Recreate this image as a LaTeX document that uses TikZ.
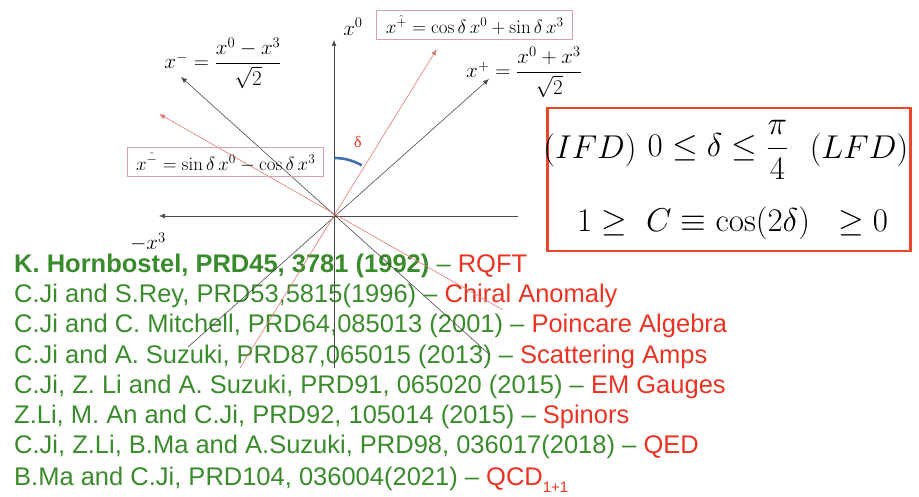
\RequirePackage{fix-cm}
\documentclass[tikz,border=0pt]{standalone}
\usepackage{amsmath,amssymb}
\usepackage[no-math]{fontspec}
\setmainfont{Liberation Sans}
\newfontfamily\greekserif{Liberation Serif}
\usetikzlibrary{arrows.meta,positioning,calc}
\definecolor{AxisGray}{HTML}{4A4A4A}
\definecolor{RayRed}{HTML}{E07A72}
\definecolor{BoxPink}{HTML}{D8A0AC}
\definecolor{FrameRed}{HTML}{E8472B}
\definecolor{ArcBlue}{HTML}{3F6FAE}
\definecolor{RefGreen}{HTML}{3A8B2C}
\definecolor{TopicRed}{HTML}{EA3323}
\begin{document}
\begin{tikzpicture}[
  x=1pt, y=-1pt,
  axis/.style={draw=AxisGray, line width=0.6pt, -{Latex[length=6pt,width=5pt]}},
  ray/.style={draw=RayRed, line width=0.6pt, -{Latex[length=6pt,width=5pt]}},
  eq/.style={inner sep=0pt, font=\fontsize{21}{25}\selectfont},
  eqbox/.style={draw=BoxPink, line width=0.7pt, inner sep=0pt, minimum width=196pt, minimum height=29pt, font=\fontsize{19}{22}\selectfont},
  condframe/.style={draw=FrameRed, line width=2.6pt, minimum width=363pt, minimum height=143pt},
  cond/.style={inner sep=0pt, font=\fontsize{33}{38}\selectfont},
  ref/.style={anchor=base west, inner sep=0pt, text=RefGreen, font=\fontsize{25.5}{30}\selectfont},
  deltaarc/.style={draw=ArcBlue, line width=2.6pt}
]
\useasboundingbox (0,0) rectangle (919,497);

% references
\node[ref] (r1) at (14,273) {\textbf{K. Hornbostel, PRD45, 3781 (1992)} -- \textcolor{TopicRed}{RQFT}};
\node[ref] (r2) at (14,303) {C.Ji and S.Rey, PRD53,5815(1996) -- \textcolor{TopicRed}{Chiral Anomaly}};
\node[ref] (r3) at (14,333) {C.Ji and C. Mitchell, PRD64,085013 (2001) -- \textcolor{TopicRed}{Poincare Algebra}};
\node[ref] (r4) at (14,363) {C.Ji and A. Suzuki, PRD87,065015 (2013) -- \textcolor{TopicRed}{Scattering Amps}};
\node[ref] (r5) at (14,393) {C.Ji, Z. Li and A. Suzuki, PRD91, 065020 (2015) -- \textcolor{TopicRed}{EM Gauges}};
\node[ref] (r6) at (14,423) {Z.Li, M. An and C.Ji, PRD92, 105014 (2015) -- \textcolor{TopicRed}{Spinors}};
\node[ref] (r7) at (14,453) {C.Ji, Z.Li, B.Ma and A.Suzuki, PRD98, 036017(2018) -- \textcolor{TopicRed}{QED}};
\node[ref] (r8) at (14,485) {B.Ma and C.Ji, PRD104, 036004(2021) -- \textcolor{TopicRed}{QCD\raisebox{-7pt}{\fontsize{15}{15}\selectfont 1+1}}};

% axes and rays
\coordinate (o) at (334.3,215);
\coordinate (x0) at (334,40);
\coordinate (x0low) at (334,368);
\coordinate (mx3) at (159,216);
\coordinate (px3) at (518,216);
\coordinate (xp) at (489,79);
\coordinate (xplow) at (188,347);
\coordinate (xm) at (181,77);
\coordinate (xmlow) at (490,355);
\coordinate (xhp) at (436.7,49.3);
\coordinate (xhplow) at (240,368);
\coordinate (xhm) at (159.3,114);
\coordinate (xhmlow) at (503,310);

\draw[axis] (x0low) -- (x0);
\draw[axis] (px3) -- (mx3);
\draw[axis] (xplow) -- (xp);
\draw[axis] (xmlow) -- (xm);
\draw[ray] (xhplow) -- (xhp);
\draw[ray] (xhmlow) -- (xhm);
\draw[deltaarc] ($(o)+(-90:57)$) arc[start angle=-90, end angle=-60, radius=55];

% labels
\node[eq] (lx0) at (353,27) {$x^0$};
\node[eq] (lmx3) at (148,242) {$-x^3$};
\node[eq] (lxm) at (223,63) {$x^{-}=\dfrac{x^0-x^3}{\sqrt2}$};
\node[eq] (lxp) at (524,72) {$x^{+}=\dfrac{x^0+x^3}{\sqrt2}$};
\node[eqbox] (lxhp) at (474.7,24.7) {$x^{\hat{+}}=\cos\delta\,x^0+\sin\delta\,x^3$};
\node[eqbox] (lxhm) at (225.7,162) {$x^{\hat{-}}=\sin\delta\,x^0-\cos\delta\,x^3$};
\node[text=TopicRed, inner sep=0pt, font=\greekserif\fontsize{16}{18}\selectfont] (ldelta) at (358,142) {δ};

% IFD / LFD range
\node[condframe] (frame) at (729,179.7) {};
\node[cond] (ifd) at (590,150) {$(IFD)$};
\node[cond] (range) at (718,150) {$0\le\delta\le\dfrac{\pi}{4}$};
\node[cond] (lfd) at (859,150) {$(LFD)$};
\node[cond] (one) at (602,223) {$1\ge$};
\node[cond] (cdef) at (728,223) {$C\equiv\cos(2\delta)$};
\node[cond] (zero) at (863,223) {$\ge 0$};
\end{tikzpicture}
\end{document}
